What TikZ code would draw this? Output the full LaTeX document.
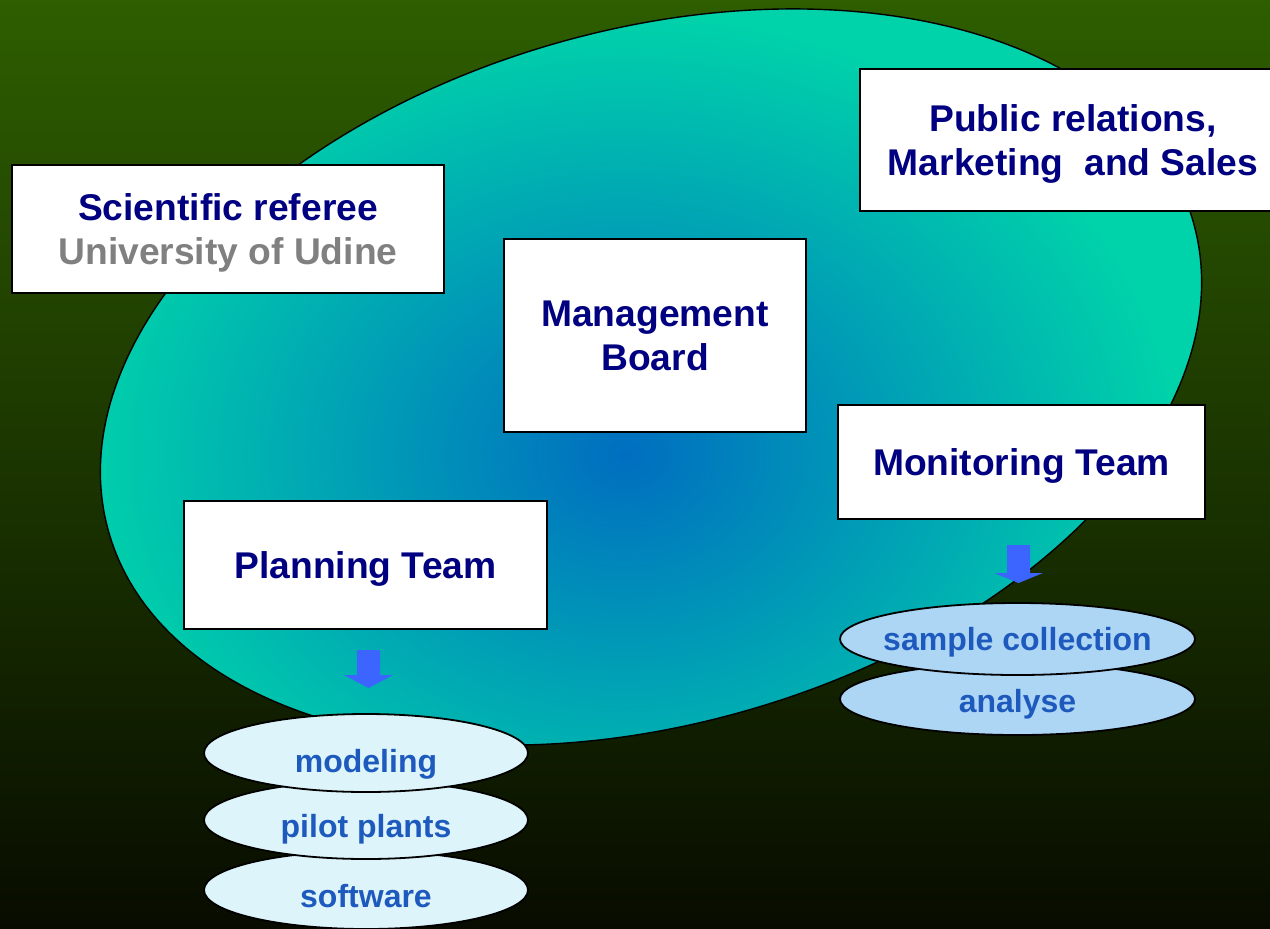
\documentclass[tikz,border=0pt]{standalone}
\usepackage{fontspec}
\setmainfont{Liberation Sans}
\usepackage{tikz}
\usetikzlibrary{positioning}
\usetikzlibrary{shapes}
\definecolor{bgtop}{RGB}{46,94,0}
\definecolor{bgmid}{RGB}{32,64,0}
\definecolor{bgbot}{RGB}{8,12,0}
\definecolor{oval}{RGB}{0,210,170}
\definecolor{core}{RGB}{0,110,192}
\definecolor{navy}{RGB}{0,0,128}
\definecolor{udine}{RGB}{128,128,128}
\definecolor{taskblue}{RGB}{30,90,190}
\definecolor{planfill}{RGB}{221,245,250}
\definecolor{monfill}{RGB}{173,214,245}
\definecolor{arrowblue}{RGB}{60,100,255}
% block arrow: centre x, top y, head y, tip y
\newcommand{\blockdown}[4]{\fill[arrowblue] (#1-11.5,#2) -- (#1+11.5,#2) -- (#1+11.5,#3) -- (#1+24.5,#3) -- (#1,#4) -- (#1-24.5,#3) -- (#1-11.5,#3) -- cycle;}
\begin{document}
\begin{tikzpicture}[x=0.5pt,y=-0.5pt,on grid,
		unit/.style={rectangle,draw=black,fill=white,line width=0.7pt,inner sep=2pt,align=center,text depth=0pt,text=navy,font=\fontsize{18.6}{22}\selectfont\bfseries},
		task/.style={ellipse,draw=black,line width=0.9pt,inner sep=0pt,text height=17pt,text depth=0pt,minimum width=162pt,minimum height=39pt,text=taskblue,font=\fontsize{16}{19}\selectfont\bfseries}]
		\clip (0,0) rectangle (1270,928);
		\shade[top color=bgtop,middle color=bgmid,bottom color=bgbot] (0,0) rectangle (1270,928);
		
		% the big oval
		\begin{scope}
		\clip[rotate around={16:(651,377)}] (651,377) ellipse [x radius=564,y radius=347];
		\fill[oval] (0,0) rectangle (1270,928);
		\shade[inner color=core,outer color=oval] (625,455) ellipse [x radius=550,y radius=440];
		\end{scope}
		\draw[line width=0.7pt,rotate around={16:(651,377)}] (651,377) ellipse [x radius=564,y radius=347];
		
		\node[unit,minimum width=216pt,minimum height=64pt]    (referee)    at (228,229)    {Scientific referee\\\textcolor{udine}{University of Udine}};
		\node[unit,minimum width=151pt,minimum height=96.5pt]  (board)      at (655,335.5)  {Management\\Board};
		\node[unit,minimum width=213pt,minimum height=71pt,text depth=-4pt] (publicity) at (1073,140) {Public relations,\\Marketing~ and Sales};
		\node[unit,minimum width=183.5pt,minimum height=57pt]  (monitoring) at (1021.5,462) {Monitoring Team};
		\node[unit,minimum width=181.5pt,minimum height=64pt]  (planning)   at (365.5,565)  {Planning Team};
		
		\blockdown{368.5}{650}{675}{688}
		\blockdown{1018.5}{545}{573}{583}
		
		\node[task,fill=planfill] (software)  at (366,890)                {software};
		\node[task,fill=planfill] (pilot)     [above=35pt of software]    {pilot plants};
		\node[task,fill=planfill,text height=19pt] (modeling) [above=33.5pt of pilot] {modeling};
		
		\node[task,fill=monfill,minimum width=177.5pt,minimum height=36pt,text height=13pt] (analyse) at (1017.5,699) {analyse};
		\node[task,fill=monfill,minimum width=177.5pt,minimum height=36pt,inner xsep=-6pt,text height=11pt] (sample) [above=30pt of analyse] {sample collection};
\end{tikzpicture}
\end{document}
